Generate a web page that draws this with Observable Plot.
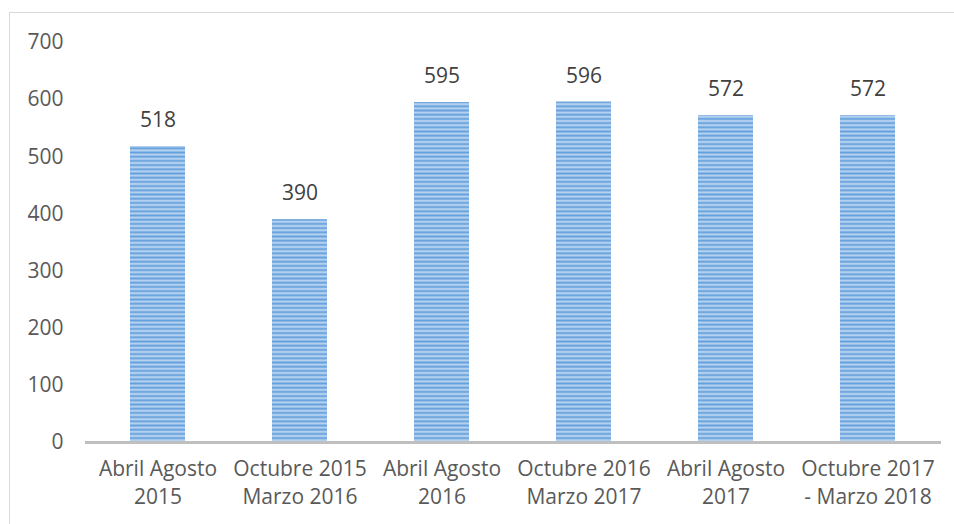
<!DOCTYPE html>
<html><head><meta charset="utf-8">
<script src="https://cdn.jsdelivr.net/npm/d3@7"></script>
<script src="https://cdn.jsdelivr.net/npm/@observablehq/plot@0.6"></script>
<style>
body{margin:0;background:#fff;}
#wrap{position:relative;width:954px;height:524px;overflow:hidden;}
#frame{position:absolute;left:9px;top:12px;width:1000px;height:600px;border-left:1.5px solid #d9d9d9;border-top:1.5px solid #d9d9d9;}
#chart{position:absolute;left:0;top:0;}
</style></head>
<body><div id="wrap"><div id="frame"></div><div id="chart"></div></div>
<script>
const categories = ["Abril Agosto\n2015","Octubre 2015\nMarzo 2016","Abril Agosto\n2016","Octubre 2016\nMarzo 2017","Abril Agosto\n2017","Octubre 2017\n- Marzo 2018"];
const values = [518, 390, 595, 596, 572, 572];
const yTicks = [0,100,200,300,400,500,600,700];

const data = categories.map((c,i)=>({cat:c, v:values[i]}));
const font = "Open Sans, sans-serif";

const plot = Plot.plot({
  width: 954, height: 524,
  marginLeft: 85, marginRight: 13, marginTop: 42, marginBottom: 82,
  style: {fontFamily: font, fontSize: "21px", color: "#595959", background: "transparent"},
  x: {domain: categories, paddingInner: 0.61, paddingOuter: 0.305, label: null},
  y: {domain: [0,700], label: null},
  marks: [
    Plot.barY(data, {x: "cat", y: "v", fill: "url(#stripes)"}),
    Plot.ruleY([0], {stroke: "#bfbfbf", strokeWidth: 3}),
    Plot.text(data, {x: "cat", y: "v", text: d => String(d.v), dy: -26, fontSize: 21, fill: "#404040"}),
    Plot.axisY({ticks: yTicks, tickSize: 0, tickPadding: 22, fontSize: 21, fill: "#595959", label: null}),
    Plot.axisX({tickSize: 0, tickPadding: 13, fontSize: 21, fill: "#595959", lineHeight: 1.35, label: null})
  ]
});
const svg = d3.select(plot);
const defs = svg.insert("defs", ":first-child");
const p = defs.append("pattern").attr("id","stripes").attr("patternUnits","userSpaceOnUse").attr("width",8).attr("height",4.2);
p.append("rect").attr("width",8).attr("height",4.2).attr("fill","#b2d0f0");
p.append("rect").attr("y",0.4).attr("width",8).attr("height",1.8).attr("fill","#639fdb");
document.getElementById("chart").appendChild(plot);
</script></body></html>
